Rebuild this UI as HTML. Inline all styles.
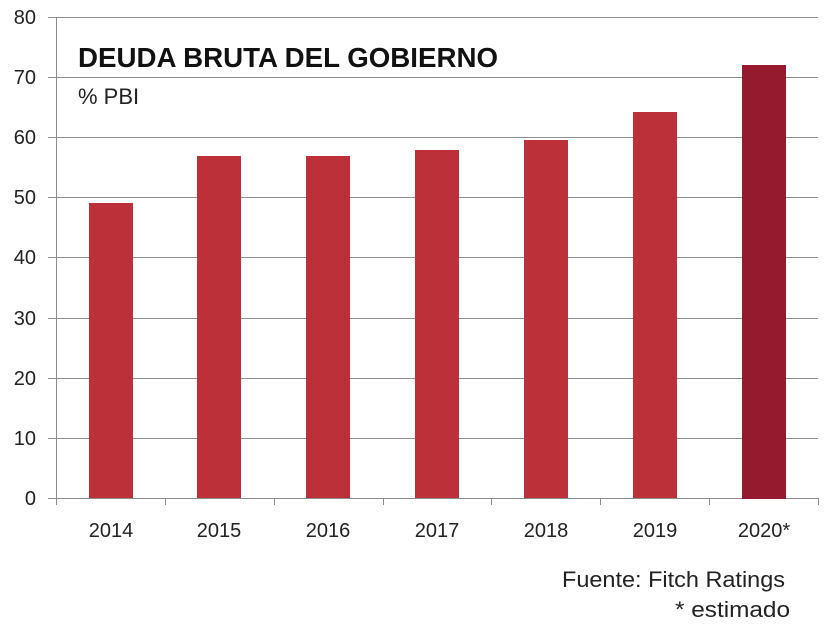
<!DOCTYPE html>
<html><head><style>body{margin:0;background:#fff}</style></head><body>
<svg width="840" height="635" xmlns="http://www.w3.org/2000/svg" font-family="Liberation Sans, sans-serif">
<rect width="840" height="635" fill="#fff"/>
<g stroke="#8c8c8c" stroke-width="1">
<line x1="48" y1="17.5" x2="818" y2="17.5"/>
<line x1="48" y1="77.5" x2="818" y2="77.5"/>
<line x1="48" y1="137.5" x2="818" y2="137.5"/>
<line x1="48" y1="197.5" x2="818" y2="197.5"/>
<line x1="48" y1="257.5" x2="818" y2="257.5"/>
<line x1="48" y1="318.5" x2="818" y2="318.5"/>
<line x1="48" y1="378.5" x2="818" y2="378.5"/>
<line x1="48" y1="438.5" x2="818" y2="438.5"/>
<line x1="48" y1="498.5" x2="818" y2="498.5"/>
<line x1="56.5" y1="17" x2="56.5" y2="505"/>
<line x1="165.5" y1="498" x2="165.5" y2="505"/>
<line x1="274.5" y1="498" x2="274.5" y2="505"/>
<line x1="383.5" y1="498" x2="383.5" y2="505"/>
<line x1="491.5" y1="498" x2="491.5" y2="505"/>
<line x1="600.5" y1="498" x2="600.5" y2="505"/>
<line x1="709.5" y1="498" x2="709.5" y2="505"/>
<line x1="818.5" y1="498" x2="818.5" y2="505"/>
</g>
<g fill="#bb3039">
<rect x="89" y="203" width="44" height="295"/>
<rect x="197" y="156" width="44" height="342"/>
<rect x="306" y="156" width="44" height="342"/>
<rect x="415" y="150" width="44" height="348"/>
<rect x="524" y="140" width="44" height="358"/>
<rect x="633" y="112" width="44" height="386"/>
</g>
<rect x="742" y="65" width="44" height="434" fill="#951a2e"/>
<g font-size="20" fill="#222" text-anchor="end">
<text x="36" y="24">80</text><text x="36" y="84">70</text><text x="36" y="144">60</text>
<text x="36" y="204">50</text><text x="36" y="264">40</text><text x="36" y="325">30</text>
<text x="36" y="385">20</text><text x="36" y="445">10</text><text x="36" y="505">0</text>
</g>
<g font-size="20" fill="#222" text-anchor="middle">
<text x="111" y="537">2014</text><text x="219" y="537">2015</text><text x="328" y="537">2016</text>
<text x="437" y="537">2017</text><text x="546" y="537">2018</text><text x="655" y="537">2019</text>
<text x="764" y="537">2020*</text>
</g>
<text x="78" y="67" font-size="28" font-weight="bold" fill="#111" textLength="420" lengthAdjust="spacingAndGlyphs">DEUDA BRUTA DEL GOBIERNO</text>
<text x="78" y="104" font-size="22" fill="#222">% PBI</text>
<text x="562" y="587" font-size="22" fill="#222" textLength="223" lengthAdjust="spacingAndGlyphs">Fuente: Fitch Ratings</text>
<text x="675" y="617" font-size="22" fill="#222" textLength="115" lengthAdjust="spacingAndGlyphs">* estimado</text>
</svg>
</body></html>
